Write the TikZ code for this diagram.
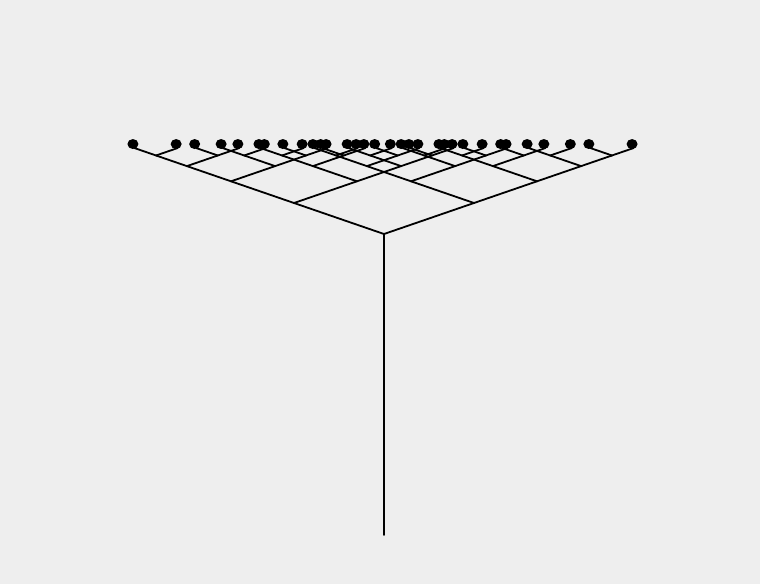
\documentclass[tikz,border=0pt]{standalone}
\usetikzlibrary{calc}
\definecolor{bg}{HTML}{EEEEEE}
\tikzset{
  branch/.style={draw=black, line width=1.8pt, line cap=round},
  leafdot/.style={fill=black}
}
\def\treebranch#1#2{%
  \pgfmathsetmacro\tdx{90*0.7^(#1-1)}%
  \pgfmathsetmacro\tdy{31*0.7^(#1-1)}%
  \coordinate (#2L) at ([shift={(-\tdx,-\tdy)}]#2);%
  \coordinate (#2R) at ([shift={(\tdx,-\tdy)}]#2);%
  \draw[branch] (#2) -- (#2L);%
  \draw[branch] (#2) -- (#2R);%
  \ifnum#1<5
    \expandafter\treebranch\expandafter{\the\numexpr#1+1\relax}{#2L}%
    \expandafter\treebranch\expandafter{\the\numexpr#1+1\relax}{#2R}%
  \else
    \fill[leafdot] ([shift={(-1.5,-4)}]#2L) ellipse [x radius=5.5pt, y radius=5pt];%
    \fill[leafdot] ([shift={(-1.5,-4)}]#2R) ellipse [x radius=5.5pt, y radius=5pt];%
  \fi
}
\begin{document}
\begin{tikzpicture}[x=1pt,y=-1pt]
  \fill[bg] (0,0) rectangle (760,584);
  \useasboundingbox (0,0) rectangle (760,584);
  \coordinate (base) at (384,535);
  \coordinate (T) at (384,234);
  \draw[branch] (base) -- (T);
  \treebranch{1}{T}
\end{tikzpicture}
\end{document}
